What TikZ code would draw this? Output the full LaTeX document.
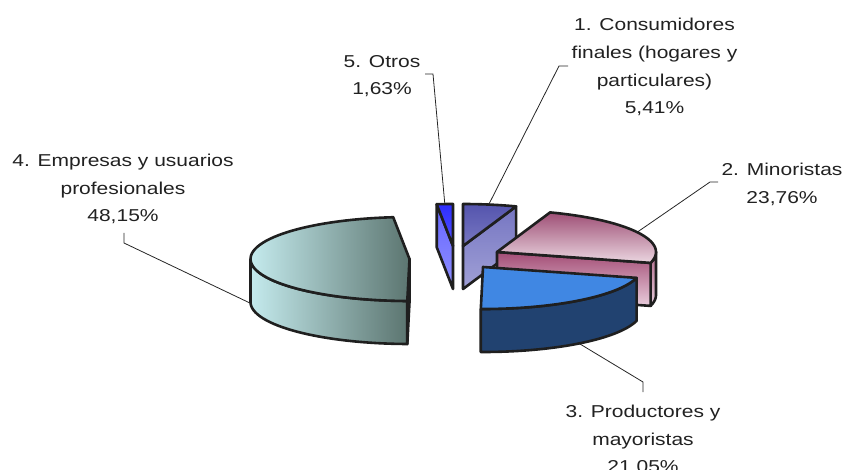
\documentclass[tikz,border=0pt]{standalone}
\usepackage{fontspec}
\setmainfont{Liberation Sans}[FakeStretch=1.22]
\begin{document}
\begin{tikzpicture}[x=1pt,y=-1pt,
  edge/.style={draw=black!88, line width=2.6pt, line join=round},
  leader/.style={draw=black!85, line width=0.8pt},
  lbl/.style={font=\fontsize{17.2}{27.8}\selectfont, text=black!87, align=center, inner sep=0pt, anchor=base}]
\useasboundingbox (0,0) rectangle (845,470);
\clip (0,0) rectangle (845,470);

% ---------- labels (anchor = baseline of last line) ----------
\node[lbl] (l5) at (382,95) {5. Otros\\1,63\%};
\node[lbl] (l1) at (654.5,114) {1. Consumidores\\finales (hogares y\\particulares)\\5,41\%};
\node[lbl] (l2) at (782,203.3) {2. Minoristas\\23,76\%};
\node[lbl] (l4) at (123,222) {4. Empresas y usuarios\\profesionales\\48,15\%};
\node[lbl] (l3) at (643,472.9) {3. Productores y\\mayoristas\\21,05\%};

% ---------- leader lines ----------
\coordinate (k5a) at (425,74);  \coordinate (k5b) at (433,74);  \coordinate (k5c) at (445,206);
\coordinate (k1a) at (568,66);  \coordinate (k1b) at (559,66);  \coordinate (k1c) at (488,206);
\coordinate (k2a) at (718,182); \coordinate (k2b) at (710,182); \coordinate (k2c) at (636,233);
\coordinate (k4a) at (124,233); \coordinate (k4b) at (124,243); \coordinate (k4c) at (252,304);
\coordinate (k3a) at (580,344); \coordinate (k3b) at (643,382); \coordinate (k3c) at (643,392);
\draw[leader] (k5a) -- (k5b) -- (k5c);
\draw[leader] (k1a) -- (k1b) -- (k1c);
\draw[leader] (k2a) -- (k2b) -- (k2c);
\draw[leader] (k4a) -- (k4b) -- (k4c);
\draw[leader] (k3a) -- (k3b) -- (k3c);

% ---------- slice 1: Consumidores ----------
\coordinate (c1) at (463,246);   \coordinate (c1b) at (463,289);
\coordinate (a1) at (516.1,206.4); \coordinate (a1b) at (516.1,249.4);
\shade[top color={rgb,1:red,0.46;green,0.46;blue,0.76}, bottom color={rgb,1:red,0.63;green,0.63;blue,0.84}]
  (a1) -- (c1) -- (c1b) -- (a1b) -- cycle;
\draw[edge] (a1) -- (c1) -- (c1b) -- (a1b) -- cycle;
\shade[top color={rgb,1:red,0.33;green,0.33;blue,0.68}, bottom color={rgb,1:red,0.47;green,0.47;blue,0.76}]
  (c1) -- (a1) -- plot[domain=70.5:90, samples=10] ({463+159*cos(\x)},{246-42*sin(\x)}) -- cycle;
\draw[edge] (c1) -- (a1) -- plot[domain=70.5:90, samples=10] ({463+159*cos(\x)},{246-42*sin(\x)}) -- cycle;

% ---------- slice 5: Otros ----------
\coordinate (c5) at (453,246);   \coordinate (c5b) at (453,289);
\coordinate (a5) at (453,204);
\coordinate (b5) at (436.7,204.2); \coordinate (b5b) at (436.7,247.2);
\shade[top color={rgb,1:red,0.40;green,0.40;blue,1}, bottom color={rgb,1:red,0.56;green,0.56;blue,1}]
  (b5) -- (c5) -- (c5b) -- (b5b) -- cycle;
\draw[edge] (b5) -- (c5) -- (c5b) -- (b5b) -- cycle;
\shade[top color={rgb,1:red,0.18;green,0.18;blue,1}, bottom color={rgb,1:red,0.32;green,0.32;blue,1}]
  (c5) -- (a5) -- plot[domain=90:95.9, samples=5] ({453+159*cos(\x)},{246-42*sin(\x)}) -- cycle;
\draw[edge] (c5) -- (a5) -- plot[domain=90:95.9, samples=5] ({453+159*cos(\x)},{246-42*sin(\x)}) -- cycle;

% ---------- slice 4: Empresas ----------
\coordinate (c4) at (409.5,259);  \coordinate (c4b) at (409.5,302);
\coordinate (a4) at (393.2,217.2);
\coordinate (b4) at (407.3,301);  \coordinate (b4b) at (407.3,344);
\shade[left color={rgb,1:red,0.77;green,0.92;blue,0.93}, right color={rgb,1:red,0.36;green,0.46;blue,0.44}]
  plot[domain=180:269.2, samples=40] ({409.5+159*cos(\x)},{259-42*sin(\x)})
  -- plot[domain=269.2:180, samples=40] ({409.5+159*cos(\x)},{302-42*sin(\x)}) -- cycle;
\draw[edge]
  plot[domain=180:269.2, samples=40] ({409.5+159*cos(\x)},{259-42*sin(\x)})
  -- plot[domain=269.2:180, samples=40] ({409.5+159*cos(\x)},{302-42*sin(\x)}) -- cycle;
\filldraw[edge, fill={rgb,1:red,0.36;green,0.46;blue,0.44}] (c4) -- (b4) -- (b4b) -- (c4b) -- cycle;
\shade[left color={rgb,1:red,0.77;green,0.92;blue,0.93}, right color={rgb,1:red,0.36;green,0.46;blue,0.44}]
  (c4) -- (a4) -- plot[domain=95.9:269.2, samples=60] ({409.5+159*cos(\x)},{259-42*sin(\x)}) -- cycle;
\draw[edge] (c4) -- (a4) -- plot[domain=95.9:269.2, samples=60] ({409.5+159*cos(\x)},{259-42*sin(\x)}) -- cycle;

% ---------- slice 2: Minoristas ----------
\coordinate (c2) at (497,252);   \coordinate (c2b) at (497,295);
\coordinate (a2) at (650.6,262.9); \coordinate (a2b) at (650.6,305.9);
\shade[top color={rgb,1:red,0.70;green,0.42;blue,0.55}, bottom color={rgb,1:red,0.90;green,0.80;blue,0.86}]
  plot[domain=-15:0, samples=8] ({497+159*cos(\x)},{252-42*sin(\x)})
  -- plot[domain=0:-15, samples=8] ({497+159*cos(\x)},{295-42*sin(\x)}) -- cycle;
\draw[edge]
  plot[domain=-15:0, samples=8] ({497+159*cos(\x)},{252-42*sin(\x)})
  -- plot[domain=0:-15, samples=8] ({497+159*cos(\x)},{295-42*sin(\x)}) -- cycle;
\shade[top color={rgb,1:red,0.64;green,0.30;blue,0.46}, bottom color={rgb,1:red,0.91;green,0.80;blue,0.86}]
  (c2) -- (a2) -- (a2b) -- (c2b) -- cycle;
\draw[edge] (c2) -- (a2) -- (a2b) -- (c2b) -- cycle;
\shade[top color={rgb,1:red,0.62;green,0.31;blue,0.46}, bottom color={rgb,1:red,0.92;green,0.84;blue,0.88}]
  (c2) -- (a2) -- plot[domain=-15:70.5, samples=40] ({497+159*cos(\x)},{252-42*sin(\x)}) -- cycle;
\draw[edge] (c2) -- (a2) -- plot[domain=-15:70.5, samples=40] ({497+159*cos(\x)},{252-42*sin(\x)}) -- cycle;

% ---------- slice 3: Productores ----------
\coordinate (c3) at (483,267);
\coordinate (a3) at (480.8,309);
\fill[fill={rgb,1:red,0.13;green,0.26;blue,0.44}]
  plot[domain=269.2:345, samples=40] ({483+159*cos(\x)},{267-42*sin(\x)})
  -- plot[domain=345:269.2, samples=40] ({483+159*cos(\x)},{310-42*sin(\x)}) -- cycle;
\draw[edge]
  plot[domain=269.2:345, samples=40] ({483+159*cos(\x)},{267-42*sin(\x)})
  -- plot[domain=345:269.2, samples=40] ({483+159*cos(\x)},{310-42*sin(\x)}) -- cycle;
\filldraw[edge, fill={rgb,1:red,0.25;green,0.53;blue,0.89}]
  (c3) -- (a3) -- plot[domain=269.2:345, samples=40] ({483+159*cos(\x)},{267-42*sin(\x)}) -- cycle;
\end{tikzpicture}
\end{document}
